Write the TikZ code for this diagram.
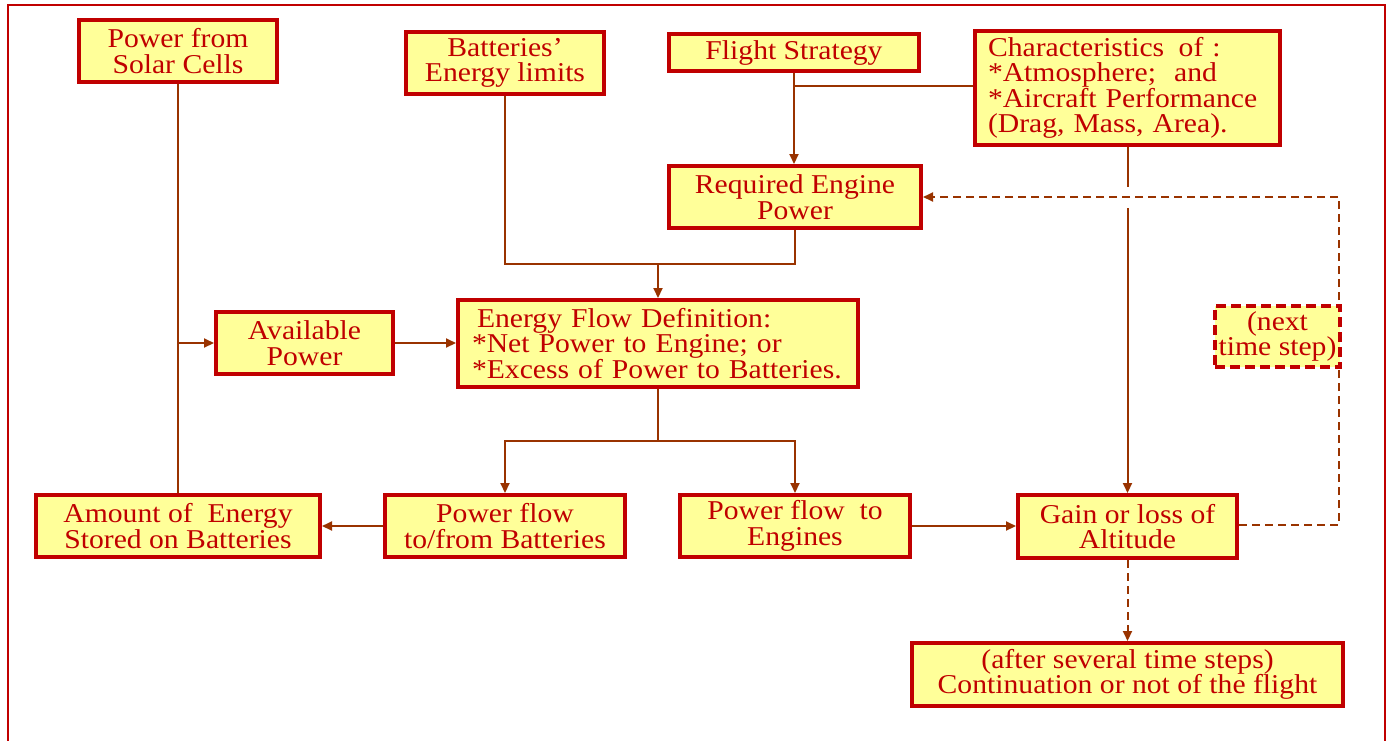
\documentclass[tikz,border=0pt]{standalone}
\usepackage{fontspec}
\setmainfont{Liberation Serif}[FakeStretch=1.09]
\usetikzlibrary{arrows.meta}
\definecolor{boxred}{RGB}{192,0,0}
\definecolor{boxfill}{RGB}{255,255,153}
\definecolor{wire}{RGB}{153,51,0}
\begin{document}
\begin{tikzpicture}[x=1pt,y=-1pt,
  blk/.style={draw=boxred, fill=boxfill, line width=4pt, text=boxred,
    inner sep=0pt, align=center, font=\fontsize{27.2}{25.5}\selectfont},
  dblk/.style={blk, dash pattern=on 10pt off 5pt},
  plain/.style={draw=wire, line width=2pt},
  link/.style={plain, -{Triangle[length=10pt,width=9pt]}},
  dlink/.style={link, dash pattern=on 8pt off 5pt}]
\useasboundingbox (0,0) rectangle (1390,740);

% outer frame
\draw[boxred, line width=2pt] (8,760) -- (8,5) -- (1385,5) -- (1385,760);

% blocks
\node[blk, minimum width=198pt, minimum height=62pt] (solar) at (178,51) {Power from\\Solar Cells};
\node[blk, minimum width=198pt, minimum height=62pt] (batt) at (505,63) {Batteries’\\Energy limits};
\node[blk, minimum width=250pt, minimum height=37pt] (strat) at (794,52.5) {Flight Strategy};
\node[blk, minimum width=305pt, minimum height=114pt, align=left, text width=279pt] (chars) at (1127.5,88)
  {Characteristics\hspace{0.2em} of :\\{*}Atmosphere;\ \ and\\{*}Aircraft Performance\\(Drag, Mass, Area).};
\node[blk, minimum width=252pt, minimum height=62pt] (req) at (795,197) {Required Engine\\Power};
\node[blk, minimum width=177pt, minimum height=62pt] (avail) at (304.5,343) {Available\\Power};
\node[blk, minimum width=400pt, minimum height=87pt, align=left, text width=372pt] (eflow) at (658,343.5)
  {\hspace*{5pt}Energy Flow Definition:\\{*}Net Power to Engine; or\\{*}Excess of Power to Batteries.};
\node[blk, minimum width=284pt, minimum height=62pt] (amount) at (178,526) {Amount of\ \ Energy\\Stored on Batteries};
\node[blk, minimum width=240pt, minimum height=62pt] (pfb) at (505,526) {Power flow\\to/from Batteries};
\node[blk, minimum width=230pt, minimum height=62pt] (pfe) at (795,526) {Power flow\ \ to\\Engines};
\node[blk, minimum width=219pt, minimum height=63pt] (gain) at (1127.5,526.5) {Gain or loss of\\Altitude};
\node[blk, minimum width=431pt, minimum height=63pt] (cont) at (1127.5,674.5)
  {(after several time steps)\\Continuation or not of the flight};

% junction points
\coordinate (j1) at (658,264);
\coordinate (j2) at (658,441);
\coordinate (loop) at (1339,525);

% solar branch
\draw[plain] (solar.south) -- (amount.north);
\draw[link] (solar.south |- avail.west) -- (avail.west);
\draw[link] (avail.east) -- (avail.east -| eflow.west);

% limits and required power into the energy flow block
\draw[plain] (batt.south) |- (j1);
\draw[plain] (req.south) |- (j1);
\draw[link] (j1) -- (eflow.north);

% strategy and characteristics into required power
\draw[link] (strat.south) -- (strat.south |- req.north);
\draw[plain] ([yshift=2pt]chars.west) -- ([yshift=2pt]chars.west -| strat.south);

% characteristics down to altitude, with a jump at the crossing
\draw[link] (chars.south) -- (chars.south |- gain.north);
\fill[white] (1122,187) rectangle (1133,208);

% feedback to the next time step
\draw[dlink] (gain.east |- loop) -- (loop) |- (req.east);
\node[dblk, minimum width=125pt, minimum height=61pt] (next) at (1277.5,336.5) {(next\\time step)};

% split of the energy flow
\draw[plain] (eflow.south) -- (j2);
\draw[link] (j2) -| (pfb.north);
\draw[link] (j2) -| (pfe.north);
\draw[link] (pfb.west) -- (amount.east);
\draw[link] (pfe.east) -- (pfe.east -| gain.west);
\draw[dlink] (gain.south) -- (cont.north);
\end{tikzpicture}
\end{document}
